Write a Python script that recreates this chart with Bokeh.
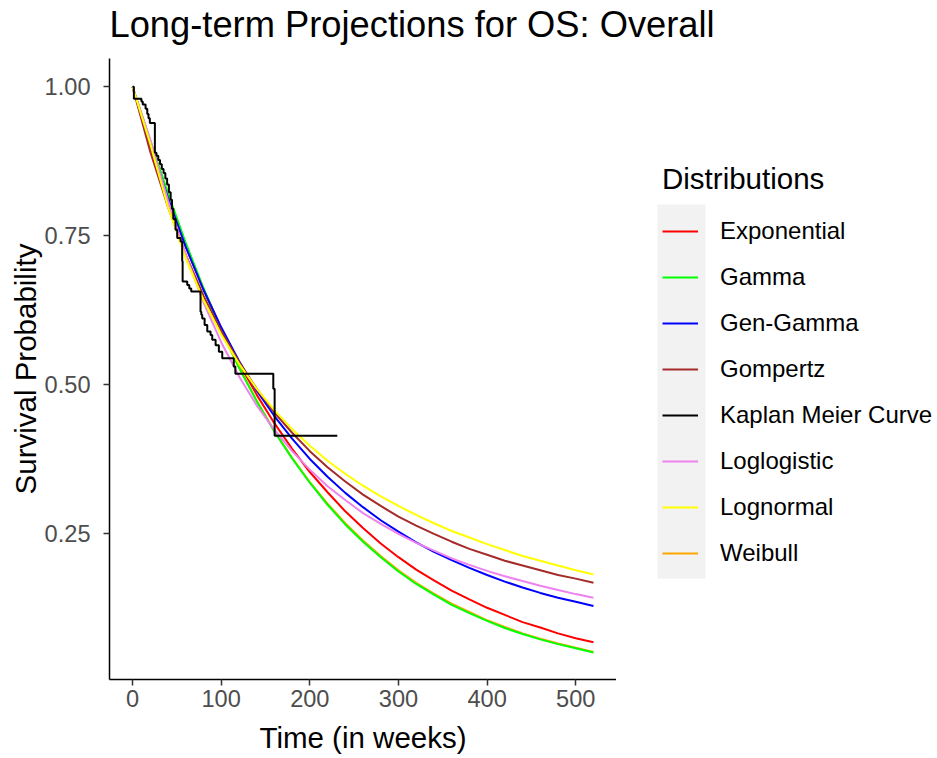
from bokeh.plotting import figure
from bokeh.layouts import row, column
from bokeh.models import (Range1d, FixedTicker, Legend, LegendItem, BoxAnnotation,
                          NumeralTickFormatter, Label)
from bokeh.embed import file_html
from bokeh.resources import INLINE

# ---- data ----
weeks = [0, 20, 40, 60, 80, 100, 120, 140, 160, 180, 200, 220, 240, 260,
         280, 300, 320, 340, 360, 380, 400, 420, 440, 460, 480, 500, 520]
exponential = [1.0, 0.901, 0.812, 0.732, 0.660, 0.595, 0.536, 0.483, 0.435, 0.392, 0.353, 0.319, 0.287, 0.259,
               0.233, 0.210, 0.189, 0.171, 0.154, 0.139, 0.125, 0.113, 0.101, 0.092, 0.082, 0.074, 0.067]
gamma = [1.0, 0.910, 0.821, 0.738, 0.662, 0.592, 0.529, 0.472, 0.421, 0.376, 0.335, 0.298, 0.265, 0.236,
         0.210, 0.186, 0.165, 0.147, 0.130, 0.116, 0.103, 0.091, 0.081, 0.072, 0.064, 0.057, 0.050]
gen_gamma = [1.0, 0.903, 0.813, 0.731, 0.659, 0.596, 0.540, 0.490, 0.447, 0.409, 0.375, 0.345, 0.318, 0.294,
             0.272, 0.253, 0.235, 0.219, 0.205, 0.192, 0.180, 0.169, 0.159, 0.150, 0.142, 0.135, 0.128]
gompertz = [1.0, 0.891, 0.798, 0.718, 0.649, 0.590, 0.538, 0.493, 0.453, 0.419, 0.388, 0.361, 0.337, 0.315,
            0.296, 0.278, 0.263, 0.249, 0.236, 0.224, 0.214, 0.204, 0.196, 0.188, 0.180, 0.174, 0.167]
loglogistic = [1.0, 0.911, 0.809, 0.718, 0.638, 0.571, 0.514, 0.465, 0.424, 0.388, 0.357, 0.329, 0.306, 0.284,
               0.266, 0.249, 0.234, 0.221, 0.208, 0.197, 0.187, 0.178, 0.170, 0.162, 0.155, 0.148, 0.142]
lognormal = [1.0, 0.904, 0.798, 0.712, 0.642, 0.584, 0.535, 0.493, 0.457, 0.425, 0.397, 0.372, 0.350, 0.330,
             0.312, 0.296, 0.281, 0.267, 0.254, 0.243, 0.232, 0.222, 0.212, 0.204, 0.196, 0.188, 0.181]
weibull = [1.0, 0.908, 0.818, 0.735, 0.660, 0.591, 0.529, 0.473, 0.422, 0.377, 0.336, 0.300, 0.267, 0.238,
           0.212, 0.188, 0.167, 0.149, 0.132, 0.118, 0.104, 0.093, 0.082, 0.073, 0.065, 0.058, 0.051]

km_weeks = [0, 1.5, 10, 11.5, 14.7, 16.6, 18, 19.5, 25.2, 27, 29, 31, 33, 35, 37, 39, 41, 43, 44.5, 46,
            48.5, 50.4, 54.2, 56, 56.5, 61.7, 64, 66.2, 76.7, 77.6, 78.6, 81.3, 84.3, 88, 89.9, 93.7,
            97.4, 101.2, 114.2, 116, 158.8, 160.3, 231]
km_surv = [1.0, 0.980, 0.975, 0.970, 0.963, 0.954, 0.947, 0.939, 0.889, 0.884, 0.877, 0.870, 0.862, 0.855,
           0.846, 0.836, 0.823, 0.810, 0.795, 0.778, 0.760, 0.746, 0.740, 0.707, 0.673, 0.667, 0.661, 0.656,
           0.622, 0.617, 0.611, 0.600, 0.589, 0.583, 0.575, 0.566, 0.555, 0.544, 0.530, 0.518, 0.493, 0.414,
           0.414]

x_ticks = [0, 100, 200, 300, 400, 500]
y_ticks = [0.25, 0.50, 0.75, 1.00]

series_names = ["Exponential", "Gamma", "Gen-Gamma", "Gompertz", "Kaplan Meier Curve",
                "Loglogistic", "Lognormal", "Weibull"]
colors = {"Exponential": "#FF0000", "Gamma": "#00FF00", "Gen-Gamma": "#0000FF", "Gompertz": "#A52A2A",
          "Kaplan Meier Curve": "#000000", "Loglogistic": "#EE82EE", "Lognormal": "#FFFF00",
          "Weibull": "#FFA500"}
curves = {"Exponential": exponential, "Gamma": gamma, "Gen-Gamma": gen_gamma, "Gompertz": gompertz,
          "Loglogistic": loglogistic, "Lognormal": lognormal, "Weibull": weibull}

FONT = "Liberation Sans"
TITLE = "Long-term Projections for OS: Overall"


def bare(fig):
    fig.axis.visible = False
    fig.xgrid.visible = False
    fig.ygrid.visible = False
    fig.outline_line_color = None


# ---- title strip ----
t = figure(width=937, height=58, x_range=Range1d(0, 937), y_range=Range1d(0, 58),
           output_backend="svg", toolbar_location=None,
           min_border_left=0, min_border_right=0, min_border_top=0, min_border_bottom=0)
bare(t)
t.add_layout(Label(x=109, y=34, text=TITLE, text_font=FONT, text_font_size="36.3px",
                   text_color="black", text_align="left", text_baseline="alphabetic"))

# ---- main plot ----
p = figure(width=616, height=700, x_range=Range1d(-26, 546), y_range=Range1d(0.0046, 1.0474),
           output_backend="svg", toolbar_location=None,
           min_border_left=109, min_border_right=0, min_border_top=0, min_border_bottom=79)
p.xgrid.visible = False
p.ygrid.visible = False
p.outline_line_color = None

p.xaxis.ticker = FixedTicker(ticks=x_ticks)
p.yaxis.ticker = FixedTicker(ticks=y_ticks)
p.yaxis.formatter = NumeralTickFormatter(format="0.00")
p.xaxis.axis_label = "Time (in weeks)"
p.yaxis.axis_label = "Survival Probability"
for ax in (p.xaxis[0], p.yaxis[0]):
    ax.axis_line_color = "black"
    ax.axis_line_width = 1.5
    ax.major_tick_line_color = "#333333"
    ax.major_tick_line_width = 1.5
    ax.major_tick_out = 6
    ax.major_tick_in = 0
    ax.minor_tick_line_color = None
    ax.major_label_text_font = FONT
    ax.major_label_text_font_size = "23.6px"
    ax.major_label_text_color = "#4D4D4D"
    ax.axis_label_text_font = FONT
    ax.axis_label_text_font_size = "29.5px"
    ax.axis_label_text_font_style = "normal"
    ax.axis_label_text_color = "black"
p.xaxis.major_label_standoff = 4
p.xaxis.axis_label_standoff = 11
p.yaxis.major_label_standoff = 13
p.yaxis.axis_label_standoff = 0

for name in ["Exponential", "Weibull", "Gamma", "Gen-Gamma", "Gompertz", "Loglogistic", "Lognormal"]:
    p.line(weeks, curves[name], line_color=colors[name], line_width=2)
p.step(km_weeks, km_surv, mode="after", line_color=colors["Kaplan Meier Curve"], line_width=2)

# ---- legend panel ----
q = figure(width=321, height=700, x_range=Range1d(0, 321), y_range=Range1d(0, 621),
           output_backend="svg", toolbar_location=None,
           min_border_left=0, min_border_right=0, min_border_top=0, min_border_bottom=79)
bare(q)

band = BoxAnnotation(left=41, right=89, top=475, bottom=101,
                     fill_color="#F2F2F2", fill_alpha=1.0, line_color=None)
q.add_layout(band)

legend_renderers = {}
for n in series_names:
    if n == "Kaplan Meier Curve":
        legend_renderers[n] = q.step(km_weeks, km_surv, mode="after", line_color=colors[n],
                                     line_width=2, visible=False)
    else:
        legend_renderers[n] = q.line(weeks, curves[n], line_color=colors[n], line_width=2, visible=False)
items = [LegendItem(label=n, renderers=[legend_renderers[n]]) for n in series_names]
legend = Legend(items=items, location=(46, 103), title="Distributions",
                padding=0, margin=0, spacing=0, glyph_width=36, glyph_height=46, label_height=46,
                label_standoff=22, background_fill_alpha=0, border_line_color=None,
                label_text_font=FONT, label_text_font_size="24px", label_text_color="black",
                title_text_font=FONT, title_text_font_size="29.5px", title_text_font_style="normal",
                title_text_color="black", title_standoff=12)
q.add_layout(legend, "center")

layout = column(t, row(p, q))
open("out.html", "w").write(file_html(layout, INLINE))
